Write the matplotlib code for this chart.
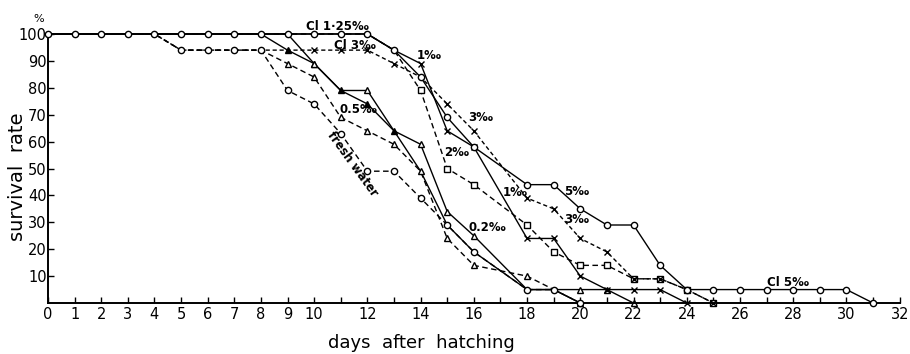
import matplotlib.pyplot as plt

plt.rcParams['font.family'] = ['DejaVu Sans']

fresh_days = [0, 1, 2, 3, 4, 5, 6, 7, 8, 9, 10, 11, 12, 13, 14, 15, 16, 18, 19, 20]
fresh_vals = [100, 100, 100, 100, 100, 94, 94, 94, 94, 79, 74, 63, 49, 49, 39, 29, 19, 5, 5, 0]

s02_days = [0, 1, 2, 3, 4, 5, 6, 7, 8, 9, 10, 11, 12, 13, 14, 15, 16, 18, 19, 20, 21, 22]
s02_vals = [100, 100, 100, 100, 100, 100, 100, 100, 100, 100, 89, 79, 79, 64, 59, 34, 25, 5, 5, 5, 5, 0]

s05_days = [0, 1, 2, 3, 4, 5, 6, 7, 8, 9, 10, 11, 12, 13, 14, 15, 16, 18, 19, 20]
s05_vals = [100, 100, 100, 100, 100, 94, 94, 94, 94, 89, 84, 69, 64, 59, 49, 24, 14, 10, 5, 0]

tri_days = [0, 1, 2, 3, 4, 5, 6, 7, 8, 9, 10, 11, 12, 13, 14, 15, 16, 18, 19, 20]
tri_vals = [100, 100, 100, 100, 100, 100, 100, 100, 100, 94, 89, 79, 74, 64, 49, 29, 19, 5, 5, 0]

s1_days = [0, 1, 2, 3, 4, 5, 6, 7, 8, 9, 10, 11, 12, 13, 14, 15, 16, 18, 19, 20, 21, 22, 23, 24]
s1_vals = [100, 100, 100, 100, 100, 100, 100, 100, 100, 100, 100, 100, 100, 94, 89, 64, 58, 24, 24, 10, 5, 5, 5, 0]

s2_days = [0, 1, 2, 3, 4, 5, 6, 7, 8, 9, 10, 11, 12, 13, 14, 15, 16, 18, 19, 20, 21, 22, 23, 24, 25]
s2_vals = [100, 100, 100, 100, 100, 100, 100, 100, 100, 100, 100, 100, 100, 94, 79, 50, 44, 29, 19, 14, 14, 9, 9, 5, 0]

s3_days = [0, 1, 2, 3, 4, 5, 6, 7, 8, 9, 10, 11, 12, 13, 14, 15, 16, 18, 19, 20, 21, 22, 23, 24, 25]
s3_vals = [100, 100, 100, 100, 100, 94, 94, 94, 94, 94, 94, 94, 94, 89, 84, 74, 64, 39, 35, 24, 19, 9, 9, 5, 0]

s5_days = [0, 1, 2, 3, 4, 5, 6, 7, 8, 9, 10, 11, 12, 13, 14, 15, 16, 18, 19, 20,
           21, 22, 23, 24, 25, 26, 27, 28, 29, 30, 31]
s5_vals = [100, 100, 100, 100, 100, 100, 100, 100, 100, 100, 100, 100, 100, 94, 84, 69, 58, 44, 44, 35,
           29, 29, 14, 5, 5, 5, 5, 5, 5, 5, 0]

x_ticks = list(range(0, 33))
x_labels = [str(d) if d <= 10 or d % 2 == 0 else '' for d in x_ticks]
y_ticks = [10, 20, 30, 40, 50, 60, 70, 80, 90, 100]

fig = plt.figure(figsize=(9.1, 3.54), dpi=100)
ax = fig.add_axes([0.0527, 0.144, 0.936, 0.760])

dash = (0, (4, 2.5))
short = (0, (3, 2))


def draw(days, vals, marker, ls, mark_from, skip=(), filled=False, ms=4.5, z=2):
    idx = [i for i, d in enumerate(days) if d >= mark_from and d not in skip]
    ax.plot(days, vals, color='black', lw=1.0, ls=ls, marker=marker, ms=ms,
            mec='black', mew=1.0, mfc='black' if filled else 'white',
            markevery=idx, clip_on=False, zorder=z)


draw(tri_days, tri_vals, '^', '-', 9, skip=(14, 15, 16, 18, 19, 20), filled=True, ms=4.5)
draw(s02_days, s02_vals, '^', '-', 10, skip=(11, 13, 18, 19), ms=4.5)
draw(s05_days, s05_vals, '^', dash, 9, skip=(19,), ms=4.5)
draw(s2_days, s2_vals, 's', dash, 14, ms=4)
draw(s3_days, s3_vals, 'x', short, 10, skip=(14,), ms=5)
draw(s1_days, s1_vals, 'x', '-', 14, ms=5)
draw(fresh_days, fresh_vals, 'o', dash, 5, ms=4.5, z=3)
draw(s5_days, s5_vals, 'o', '-', 0, ms=4.5, z=3)

lab = dict(fontsize=8.5, fontweight='bold', va='center', ha='left')
ax.text(9.7, 102.8, 'Cl 1·25‰', **lab)
ax.text(10.75, 95.8, 'Cl 3‰', **lab)
ax.text(13.85, 92.0, '1‰', **lab)
ax.text(15.8, 69.0, '3‰', **lab)
ax.text(10.95, 72.0, '0.5‰', **lab)
ax.text(14.9, 56.0, '2‰', **lab)
ax.text(17.1, 41.0, '1‰', **lab)
ax.text(19.4, 41.5, '5‰', **lab)
ax.text(19.4, 31.0, '3‰', **lab)
ax.text(15.8, 28.0, '0.2‰', **lab)
ax.text(27.0, 7.5, 'Cl 5‰', **lab)
ax.text(11.45, 51.5, 'fresh water', fontsize=8.5, fontweight='bold',
        rotation=-54, ha='center', va='center')

ax.set_xlim(0, 32)
ax.set_ylim(0, 100)
ax.set_xticks(x_ticks)
ax.set_xticklabels(x_labels)
ax.set_yticks(y_ticks)
ax.tick_params(direction='in', length=4, width=1.0, labelsize=10.5, pad=3)
ax.tick_params(axis='y', pad=1)
for side in ['top', 'right']:
    ax.spines[side].set_visible(False)
for side in ['left', 'bottom']:
    ax.spines[side].set_linewidth(1.4)

fig.text(0.043, 0.945, '%', fontsize=8, ha='center', va='center')
fig.text(0.019, 0.50, 'survival  rate', rotation=90, fontsize=14,
         ha='center', va='center')
fig.text(0.463, 0.03, 'days  after  hatching', fontsize=13,
         ha='center', va='center')

fig.savefig('out.png', dpi=100)
